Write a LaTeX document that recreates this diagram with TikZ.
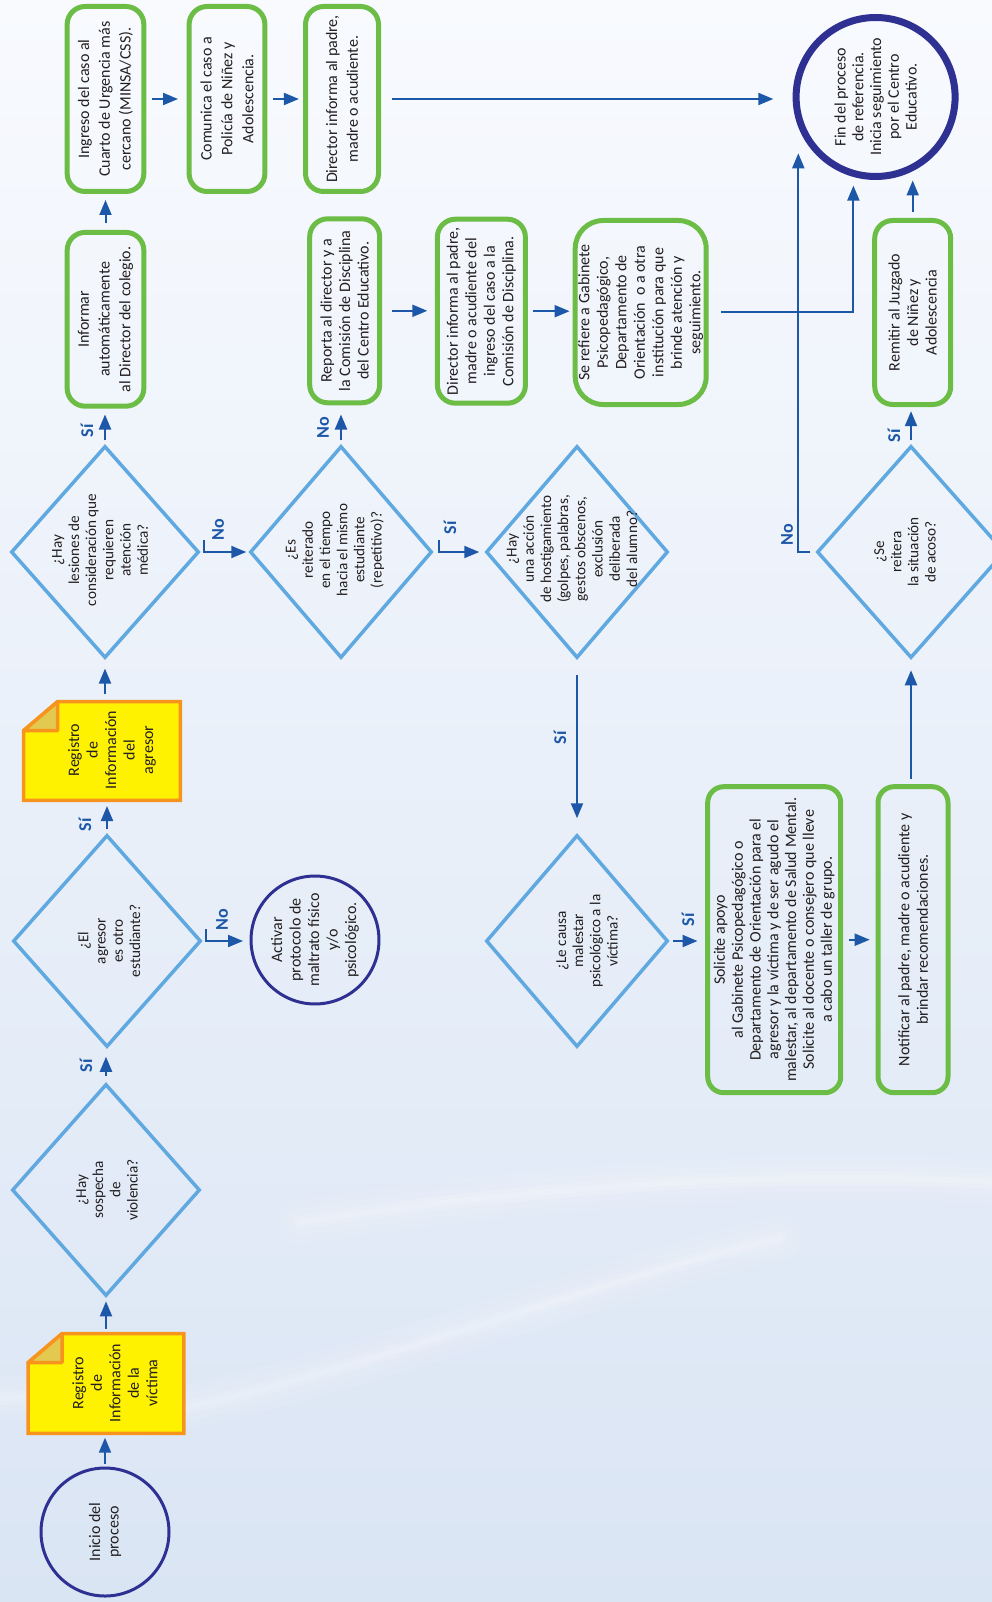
\documentclass[tikz,border=0pt]{standalone}
\usepackage{fontspec}
\setmainfont{Carlito}
\usetikzlibrary{shapes.geometric,arrows.meta,calc}
\definecolor{navy}{RGB}{46,49,146}
\definecolor{grn}{RGB}{108,189,69}
\definecolor{dblue}{RGB}{95,168,224}
\definecolor{ablue}{RGB}{29,87,168}
\definecolor{docfill}{RGB}{255,242,0}
\definecolor{docline}{RGB}{247,148,29}
\definecolor{foldfill}{RGB}{227,201,79}
\definecolor{txt}{RGB}{35,31,32}
\definecolor{bgtop}{RGB}{248,250,254}
\definecolor{bgmid}{RGB}{238,243,250}
\definecolor{bgbot}{RGB}{218,229,244}
\pgfdeclarelayer{back}
\pgfdeclarelayer{mid}
\pgfsetlayers{back,mid,main}
\begin{document}
\begin{tikzpicture}[x=1pt,y=1pt,
  rot/.style={rotate=90},
  wh/.style 2 args={minimum width=#2, minimum height=#1},
  txtf/.style={text=txt, align=center, inner sep=0pt, font=\fontsize{16}{18.5}\selectfont},
  topf/.style={font=\fontsize{16}{20.8}\selectfont},
  tnode/.style={rot, txtf},
  dtext/.style={rot, txtf, font=\fontsize{15.2}{17.2}\selectfont},
  gbox/.style={rot, txtf, draw=grn, line width=5pt, rounded corners=18pt},
  dia/.style={rot, shape=diamond, draw=dblue, line width=3.5pt, inner sep=0pt},
  ring/.style={rot, txtf, circle, draw=navy, line width=3pt},
  docnode/.style={rot, inner sep=0pt},
  docshape/.style={draw=docline, fill=docfill, line width=3.5pt},
  foldshape/.style={draw=docline, fill=foldfill, line width=3.5pt, line join=round},
  lab/.style={rot, text=ablue, inner sep=0pt, font=\fontsize{18}{20}\selectfont\bfseries},
  arr/.style={draw=ablue, line width=2pt, -{Triangle[length=15pt,width=12pt]}},
]
\useasboundingbox (0,0) rectangle (992,-1602);
\clip (0,0) rectangle (992,-1602);

% background wash with soft light streaks
\begin{pgfonlayer}{back}
\shade[top color=bgtop, middle color=bgmid, bottom color=bgbot] (0,0) rectangle (992,-1602);
\foreach \w/\o in {44/0.07,28/0.09,14/0.12,6/0.15}{
  \draw[white, line width=\w pt, opacity=\o, line cap=round]
    (120,-1420) .. controls (330,-1385) and (560,-1290) .. (780,-1238);
  \draw[white, line width=\w pt, opacity=\o, line cap=round]
    (300,-1222) .. controls (500,-1192) and (750,-1168) .. (992,-1182);
  \draw[white, line width=\w pt, opacity=\o, line cap=round]
    (0,-1398) -- (140,-1394);
}
\end{pgfonlayer}

% ---- start and first registry ----
\node[ring, minimum size=128pt] (inicio) at (105,-1532) {Inicio del\\proceso};
\node[docnode, wh={155.4}{99.4}] (regv) at (106,-1383.5) {};
\node[tnode] (regvt) at (115,-1383) {Registro\\de\\Información\\de la\\víctima};

% ---- decisions, column 1 ----
\node[dia, wh={188}{212}] (dq1) at (106,-1190) {};
\node[dtext] (dq1t) at (107,-1190) {¿Hay\\sospecha\\de\\violencia?};
\node[dia, wh={188}{212}] (dq2) at (107,-941) {};
\node[dtext] (dq2t) at (109,-941) {¿El\\agresor\\es otro\\estudiante?};
\node[ring, minimum size=127pt] (act) at (315,-940) {Activar\\protocolo de\\maltrato físico\\y/o\\psicológico.};
\node[docnode, wh={156.4}{98.4}] (rega) at (102,-751) {};
\node[tnode] (regat) at (112,-750) {Registro\\de\\Información\\del\\agresor};
\node[dia, wh={188}{212}] (dq3) at (105,-552) {};
\node[dtext] (dq3t) at (100,-550) {¿Hay\\lesiones de\\consideración que\\requieren\\atención\\médica?};

% ---- medical branch ----
\node[gbox, topf, wh={76.7}{173.8}] (binf) at (105.5,-319.3) {Informar\\automáticamente\\al Director del colegio.};
\node[gbox, topf, wh={76.7}{185}] (bing) at (105.5,-99) {Ingreso del caso al\\Cuarto de Urgencia más\\cercano (MINSA/CSS).};
\node[gbox, topf, wh={75.8}{185}] (bcom) at (227,-99) {Comunica el caso a\\Policía de Niñez y\\Adolescencia.};
\node[gbox, topf, wh={73}{185}] (bdir1) at (342,-99) {Director informa al padre,\\madre o acudiente.};

% ---- repetition branch ----
\node[dia, wh={182}{212}] (dq4) at (341,-552) {};
\node[dtext] (dq4t) at (335,-550) {¿Es\\reiterado\\en el tiempo\\hacia el mismo\\estudiante\\(repetitivo)?};
\node[gbox, wh={70}{184}] (brep) at (344.7,-310.8) {Reporta al director y a\\la Comisión de Disciplina\\del Centro Educativo.};
\node[gbox, wh={88}{184}] (bdir2) at (481.4,-311.2) {Director informa al padre,\\madre o acudiente del\\ingreso del caso a la\\Comisión de Disciplina.};
\node[gbox, rounded corners=28pt, wh={131}{184}] (bref) at (640.7,-312.5) {Se refiere a Gabinete\\Psicopedagógico,\\Departamento de\\Orientación~ o a otra\\institución para que\\brinde atención y\\seguimiento.};

% ---- harassment branch ----
\node[dia, wh={182}{212}] (dq5) at (577,-552) {};
\node[dtext] (dq5t) at (572,-549) {¿Hay\\una acción\\de hostigamiento\\(golpes, palabras,\\gestos obscenos,\\exclusión\\deliberada\\del alumno?};
\node[dia, wh={182}{212}] (dq6) at (577,-941) {};
\node[dtext] (dq6t) at (587,-941) {¿Le causa\\malestar\\psicológico a la\\víctima?};
\node[gbox, rounded corners=16pt, wh={133}{306}, font=\fontsize{16}{17.8}\selectfont] (bsol) at (774.2,-939.7) {Solicite apoyo\\al Gabinete Psicopedagógico o\\Departamento de Orientación para el\\agresor y la víctima y de ser agudo el\\malestar, al departamento de Salud Mental.\\Solicite al docente o consejero que lleve\\a cabo un taller de grupo.};
\node[gbox, rounded corners=16pt, wh={70}{306}] (bnot) at (913,-939.7) {Notificar al padre, madre o acudiente y\\brindar recomendaciones.};
\node[dia, wh={188}{212}] (dq7) at (911,-552) {};
\node[dtext] (dq7t) at (905,-552) {¿Se\\reitera\\la situación\\de acoso?};
\node[gbox, wh={76}{184}] (brem) at (912.7,-312.5) {Remitir al Juzgado\\de Niñez y\\Adolescencia};
\node[ring, line width=7pt, minimum size=159pt, font=\fontsize{16}{17.7}\selectfont] (fin) at (875.6,-97) {Fin del proceso\\de referencia.\\Inicia seguimiento\\por el Centro\\Educativo.};

% ---- registry sheets with folded corner ----
\begin{pgfonlayer}{mid}
\foreach \d in {regv,rega}{
  \draw[docshape] ($(\d.north east)+(0,-29)$) -- ($(\d.north east)+(34,0)$) -- (\d.south east)
     -- (\d.south west) -- (\d.north west) -- cycle;
  \draw[foldshape] ($(\d.north east)+(0,-29)$) -- ($(\d.north east)+(34,0)$)
     -- ($(\d.north east)+(34,-29)$) -- cycle;
}
\end{pgfonlayer}

% ---- connectors ----
\draw[arr, shorten <=3pt, shorten >=4.3pt] (inicio.east) -- (inicio.east |- regv.west);
\draw[arr, shorten <=5pt, shorten >=3.6pt] (regv.east) -- (dq1.west);
\draw[arr, shorten <=6pt, shorten >=8pt] (dq1.east) -- (dq1.east |- dq2.west);
\draw[arr, shorten <=4pt, shorten >=5.6pt] (dq2.east) -- (dq2.east |- rega.west);
\draw[arr, shorten >=6.5pt] ($(dq2.south)+(3,12)$) -- ($(dq2.south)+(3,0)$) -- (dq2.south -| act.north);
\draw[arr, shorten <=7.8pt, shorten >=8.8pt] (dq3.west |- rega.east) -- (dq3.west);
\draw[arr, shorten <=4pt, shorten >=5.8pt] (dq3.east) -- (dq3.east |- binf.west);
\draw[arr, shorten <=6.9pt, shorten >=6pt] (binf.east) -- (bing.west);
\draw[arr, shorten <=6pt, shorten >=8.6pt] (bing.south) -- (bcom.north);
\draw[arr, shorten <=5.9pt, shorten >=4.1pt] (bcom.south) -- (bdir1.north);
\draw[arr, shorten <=10.5pt, shorten >=19.3pt] (bdir1.south) -- (bdir1.south -| fin.north);
\draw[arr, shorten >=2pt] ($(dq3.south)+(3,12)$) -- ($(dq3.south)+(3,0)$) -- (dq4.north);
\draw[arr, shorten <=4pt, shorten >=9.2pt] (dq4.east) -- (dq4.east |- brep.west);
\draw[arr, shorten <=9.3pt, shorten >=7.6pt] (brep.south) -- (brep.south -| bdir2.north);
\draw[arr, shorten <=4.8pt, shorten >=3.1pt] (bdir2.south) -- (bdir2.south -| bref.north);
\draw[arr, shorten <=12.7pt, shorten >=88.6pt] (bref.south) -| ([xshift=-22.2pt]fin.center);
\draw[arr, shorten >=5pt] ($(dq4.south)+(5,12)$) -- ($(dq4.south)+(5,0)$) -- (dq5.north);
\draw[arr, shorten <=15.6pt, shorten >=15pt] (dq5.west) -- (dq6.east);
\draw[arr, shorten <=3pt, shorten >=7.7pt] (dq6.south) -- (dq6.south -| bsol.north);
\draw[arr, shorten <=5.9pt, shorten >=5.8pt] (bsol.south) -- (bnot.north);
\draw[arr, shorten <=5.7pt, shorten >=10.5pt] (dq7.west |- bnot.east) -- (dq7.west);
\draw[arr, shorten <=4pt, shorten >=4.2pt] (dq7.east) -- (dq7.east |- brem.west);
\draw[arr, shorten <=5.9pt, shorten >=0.5pt] (brem.east) -- (brem.east |- fin.west);
\draw[arr, shorten <=5pt, shorten >=56.3pt] (dq7.north) -| ([xshift=-77.3pt]fin.center);

% ---- branch labels ----
\node[lab] (l1) at (86,-1066) {Sí};
\node[lab] (l2) at (85,-825) {Sí};
\node[lab] (l3) at (222,-920) {No};
\node[lab] (l4) at (87,-431) {Sí};
\node[lab] (l5) at (218,-530) {No};
\node[lab] (l6) at (323,-428) {No};
\node[lab] (l7) at (450,-528) {Sí};
\node[lab] (l8) at (560,-738) {Sí};
\node[lab] (l9) at (688,-920) {Sí};
\node[lab] (l10) at (894,-436) {Sí};
\node[lab] (l11) at (787,-535) {No};
\end{tikzpicture}
\end{document}
